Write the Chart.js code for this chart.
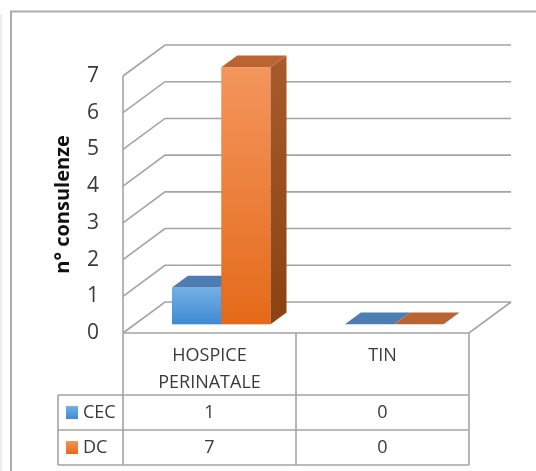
<!DOCTYPE html>
<html>
<head>
<meta charset="utf-8">
<style>
  html, body { margin: 0; padding: 0; background: #fff; }
  canvas { display: block; }
</style>
<script src="https://cdn.jsdelivr.net/npm/chart.js@4.4.1/dist/chart.umd.min.js"></script>
</head>
<body>
<canvas id="c" width="536" height="471"></canvas>
<script>
// Consultations by setting
const categories = [['HOSPICE', 'PERINATALE'], ['TIN']];
const seriesNames = ['CEC', 'DC'];
const cecValues = [1, 0];
const dcValues = [7, 0];
const yMin = 0;
const yMax = 7;
const yStep = 1;
const axisTitle = 'n° consulenze';

// Styling
const FONT = "'Open Sans', 'DejaVu Sans', sans-serif";
const DEPTH = { dx: 42, dy: -31 };        // depth of the 3D box (floor / walls)
const BAR_FRONT = 0.28, BAR_BACK = 0.66;  // depth slice occupied by the bars
const GRID = '#a4a4a4';
const TEXT = '#3a3a3a';
const palette = {
  CEC: { front: ['#74afe4', '#3e8bd3'], top: '#4e7db4', side: ['#3b6fa8', '#2c5d93'], key: '#4a8fd8' },
  DC:  { front: ['#f4955c', '#e46a19'], top: '#bb6431', side: ['#a95a2c', '#8a4211'], key: '#ef7a2a' }
};
const TABLE = { legendLeft: 58, headerBottom: 395, rowHeight: 35 };

function line(ctx, pts, color, width) {
  ctx.save();
  ctx.strokeStyle = color;
  ctx.lineWidth = width;
  ctx.beginPath();
  ctx.moveTo(pts[0][0], pts[0][1]);
  for (let i = 1; i < pts.length; i++) ctx.lineTo(pts[i][0], pts[i][1]);
  ctx.stroke();
  ctx.restore();
}

function poly(ctx, pts, fill) {
  ctx.beginPath();
  ctx.moveTo(pts[0][0], pts[0][1]);
  for (let i = 1; i < pts.length; i++) ctx.lineTo(pts[i][0], pts[i][1]);
  ctx.closePath();
  ctx.fillStyle = fill;
  ctx.fill();
}

const box3d = {
  id: 'box3d',
  beforeDraw(chart) {
    const ctx = chart.ctx;
    ctx.save();
    ctx.fillStyle = '#ffffff';
    ctx.fillRect(0, 0, chart.width, chart.height);
    ctx.restore();
    // outer frame
    line(ctx, [[1, 14], [1, chart.height]], '#e8e8e8', 1.5);
    line(ctx, [[11, chart.height], [11, 11.5], [chart.width, 11.5]], '#ababab', 2);
  },
  beforeDatasetsDraw(chart) {
    const ctx = chart.ctx;
    const { left, right, top, bottom } = chart.chartArea;
    const y = chart.scales.y;
    // walls: a diagonal and back gridline per tick
    y.ticks.forEach(t => {
      const yf = y.getPixelForValue(t.value);
      line(ctx, [[left, yf], [left + DEPTH.dx, yf + DEPTH.dy], [right + DEPTH.dx, yf + DEPTH.dy]], GRID, 1.6);
    });
    // front left edge and floor outline
    line(ctx, [[left, top], [left, bottom]], GRID, 1.6);
    line(ctx, [[left, bottom], [right, bottom], [right + DEPTH.dx, bottom + DEPTH.dy]], GRID, 1.6);
  },
  afterDatasetsDraw(chart) {
    const ctx = chart.ctx;
    const fx = DEPTH.dx * BAR_FRONT, fy = DEPTH.dy * BAR_FRONT;
    const bx = DEPTH.dx * BAR_BACK, by = DEPTH.dy * BAR_BACK;
    const n = chart.data.labels.length;
    for (let j = 0; j < n; j++) {
      chart.data.datasets.forEach((ds, i) => {
        const el = chart.getDatasetMeta(i).data[j];
        const p = palette[ds.label];
        const x0 = el.x - el.width / 2, x1 = el.x + el.width / 2;
        const yt = el.y, yb = el.base;
        ctx.save();
        if (yb - yt > 0.5) {
          const g = ctx.createLinearGradient(0, yt + fy, 0, yb + fy);
          g.addColorStop(0, p.front[0]);
          g.addColorStop(1, p.front[1]);
          ctx.fillStyle = g;
          ctx.fillRect(x0 + fx, yt + fy, x1 - x0, yb - yt);
          const gs = ctx.createLinearGradient(0, yt + by, 0, yb + fy);
          gs.addColorStop(0, p.side[0]);
          gs.addColorStop(1, p.side[1]);
          poly(ctx, [[x1 + fx, yt + fy], [x1 + bx, yt + by], [x1 + bx, yb + by], [x1 + fx, yb + fy]], gs);
        }
        poly(ctx, [[x0 + fx, yt + fy], [x1 + fx, yt + fy], [x1 + bx, yt + by], [x0 + bx, yt + by]], p.top);
        ctx.restore();
      });
    }
  },
  afterDraw(chart) {
    const ctx = chart.ctx;
    const { left, right, bottom } = chart.chartArea;
    const x = chart.scales.x;
    const n = chart.data.labels.length;
    const centers = [];
    for (let j = 0; j < n; j++) centers.push(x.getPixelForValue(j));
    const bounds = [left];
    for (let j = 1; j < n; j++) bounds.push((centers[j - 1] + centers[j]) / 2);
    bounds.push(right);

    const hb = TABLE.headerBottom;
    const rows = chart.data.datasets.length;
    const tableBottom = hb + rows * TABLE.rowHeight;

    // grid of the data table
    bounds.forEach(bx => line(ctx, [[bx, bottom], [bx, tableBottom]], GRID, 1.6));
    for (let r = 0; r <= rows; r++) {
      const ry = hb + r * TABLE.rowHeight;
      line(ctx, [[TABLE.legendLeft, ry], [right, ry]], GRID, 1.6);
    }
    line(ctx, [[TABLE.legendLeft, hb], [TABLE.legendLeft, tableBottom]], GRID, 1.6);

    ctx.save();
    ctx.fillStyle = TEXT;
    ctx.font = '18px ' + FONT;
    ctx.textAlign = 'center';
    ctx.textBaseline = 'middle';
    // category headers
    chart.data.labels.forEach((lab, j) => {
      const lines = Array.isArray(lab) ? lab : [lab];
      lines.forEach((s, k) => ctx.fillText(s, centers[j], 356 + k * 27));
    });
    // values and legend keys
    chart.data.datasets.forEach((ds, i) => {
      const cy = hb + i * TABLE.rowHeight + TABLE.rowHeight / 2;
      ds.data.forEach((v, j) => {
        ctx.fillStyle = TEXT;
        ctx.textAlign = 'center';
        ctx.fillText(String(v), centers[j], cy);
      });
      const p = palette[ds.label];
      const g = ctx.createLinearGradient(0, cy - 6.5, 0, cy + 6.5);
      g.addColorStop(0, p.front[0]);
      g.addColorStop(1, p.front[1]);
      ctx.fillStyle = g;
      ctx.fillRect(66, cy - 6.5, 12, 13);
      ctx.fillStyle = TEXT;
      ctx.textAlign = 'left';
      ctx.fillText(ds.label, 83, cy);
    });
    ctx.restore();
  }
};

new Chart(document.getElementById('c'), {
  type: 'bar',
  data: {
    labels: categories,
    datasets: [
      { label: seriesNames[0], data: cecValues },
      { label: seriesNames[1], data: dcValues }
    ].map(d => Object.assign(d, {
      backgroundColor: 'rgba(0,0,0,0)',
      borderWidth: 0,
      categoryPercentage: 0.57,
      barPercentage: 1
    }))
  },
  options: {
    responsive: false,
    animation: false,
    devicePixelRatio: 1,
    layout: { padding: { left: 0, top: 76, right: 67, bottom: 138 } },
    plugins: { legend: { display: false }, tooltip: { enabled: false } },
    scales: {
      x: { display: false },
      y: {
        min: yMin,
        max: yMax,
        grid: { display: false, drawTicks: false },
        border: { display: false },
        ticks: { stepSize: yStep, padding: 24, color: TEXT, font: { family: FONT, size: 21 } },
        title: {
          display: true,
          text: axisTitle,
          color: '#111111',
          font: { family: FONT, size: 20, weight: 'bold' },
          padding: { top: 51, bottom: 0 }
        },
        afterFit(scale) { scale.width = 123; }
      }
    }
  },
  plugins: [box3d]
});
</script>
</body>
</html>
